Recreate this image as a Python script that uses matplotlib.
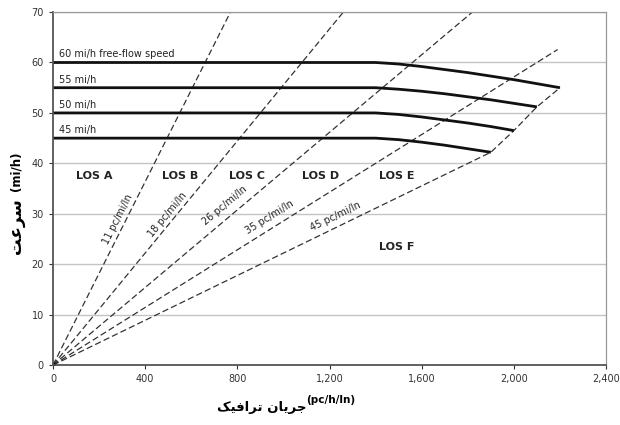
import numpy as np
import matplotlib

matplotlib.use('Agg')
import matplotlib.pyplot as plt

plt.rcParams['font.family'] = ['DejaVu Sans']

# speed-flow curves (flow pc/h/ln, speed mi/h)
flow_60 = [0, 1400, 1500, 1600, 1700, 1800, 1900, 2000, 2100, 2200]
speed_60 = [60, 60, 59.7, 59.2, 58.6, 58.0, 57.3, 56.6, 55.8, 55.0]
flow_55 = [0, 1400, 1500, 1600, 1700, 1800, 1900, 2000, 2100]
speed_55 = [55, 55, 54.7, 54.3, 53.8, 53.2, 52.6, 51.9, 51.2]
flow_50 = [0, 1400, 1500, 1600, 1700, 1800, 1900, 2000]
speed_50 = [50, 50, 49.7, 49.2, 48.6, 48.0, 47.3, 46.5]
flow_45 = [0, 1400, 1500, 1600, 1700, 1800, 1900]
speed_45 = [45, 45, 44.7, 44.2, 43.6, 42.9, 42.2]
curve_labels = ['60 mi/h free-flow speed', '55 mi/h', '50 mi/h', '45 mi/h']

# LOS density boundaries (pc/mi/ln)
los_density = [11, 18, 26, 35]
los_end_flow = [770, 1260, 1820, 2190]
los45_flow = [0, 1900, 2000, 2100, 2200]
los45_speed = [0, 42.2, 46.5, 51.2, 55.0]
density_labels = ['11 pc/mi/ln', '18 pc/mi/ln', '26 pc/mi/ln', '35 pc/mi/ln', '45 pc/mi/ln']
label_x = [282, 499, 747, 942, 1224]
label_y = [29.0, 29.8, 31.6, 29.4, 29.4]

los_names = ['LOS A', 'LOS B', 'LOS C', 'LOS D', 'LOS E', 'LOS F']
los_x = [180, 550, 840, 1160, 1490, 1490]
los_y = [37.5, 37.5, 37.5, 37.5, 37.5, 23.5]

x_ticks = [0, 400, 800, 1200, 1600, 2000, 2400]
y_ticks = [0, 10, 20, 30, 40, 50, 60, 70]

# Persian labels, shaped by hand (visual order) since matplotlib has no shaping
ylabel_fa = '\uFE96\uFECB\uFEAE\uFEB3'  # سرعت
xlabel_fa = '\uFB8F\uFBFF\uFED3\uFE8D\uFEAE\uFE97 \uFEE5\uFE8E\uFBFE\uFEAE\uFE9F'  # جریان ترافیک

fig = plt.figure(figsize=(6.2, 4.25), dpi=100)
ax = fig.add_axes([0.0855, 0.141, 0.892, 0.8306])
ax.set_xlim(0, 2400)
ax.set_ylim(0, 70)

ax.set_yticks(y_ticks)
ax.set_xticks(x_ticks)
ax.set_xticklabels([f'{v:,}' for v in x_ticks])
ax.grid(axis='y', color='#c4c4c4', lw=1.0)
ax.set_axisbelow(True)
ax.tick_params(labelsize=7, colors='#333333', length=3, width=0.8)
for s in ['left', 'bottom']:
    ax.spines[s].set_color('#555555')
    ax.spines[s].set_linewidth(1.3)
for s in ['top', 'right']:
    ax.spines[s].set_color('#999999')
    ax.spines[s].set_linewidth(0.9)

dash = (0, (5, 2.5))
for d, f_end in zip(los_density, los_end_flow):
    ax.plot([0, f_end], [0, f_end / d], color='#333333', lw=0.9, linestyle=dash)
ax.plot(los45_flow, los45_speed, color='#333333', lw=0.9, linestyle=dash)
ax.plot([0], [0], 'o', color='black', ms=3)

for fl, sp in [(flow_60, speed_60), (flow_55, speed_55), (flow_50, speed_50), (flow_45, speed_45)]:
    ax.plot(fl, sp, color='#111111', lw=2.0, solid_capstyle='butt')

for lab, sp in zip(curve_labels, [speed_60[0], speed_55[0], speed_50[0], speed_45[0]]):
    ax.text(25, sp + 0.6, lab, fontsize=7, color='#222222', va='bottom', ha='left')

for lab, d, x, y in zip(density_labels, los_density + [45], label_x, label_y):
    ang = np.degrees(np.arctan2(1.0, d))
    ax.text(x, y, lab, fontsize=7, color='#222222', rotation=ang,
            transform_rotates_text=True, rotation_mode='anchor',
            ha='center', va='center')

for lab, x, y in zip(los_names, los_x, los_y):
    ax.text(x, y, lab, fontsize=8, fontweight='bold', color='#222222', ha='center', va='center')

fig.text(16 / 620, 1 - 226 / 425, ylabel_fa, fontsize=12, fontweight='bold',
         rotation=90, ha='center', va='center')
fig.text(16 / 620, 1 - 171 / 425, '(mi/h)', fontsize=8.5, fontweight='bold',
         rotation=90, ha='center', va='center')
fig.text(262 / 620, 1 - 407 / 425, xlabel_fa, fontsize=9.5, fontweight='bold',
         ha='center', va='center')
fig.text(331 / 620, 1 - 400 / 425, '(pc/h/ln)', fontsize=7.5, fontweight='bold',
         ha='center', va='center')

plt.savefig('out.png', dpi=100)
